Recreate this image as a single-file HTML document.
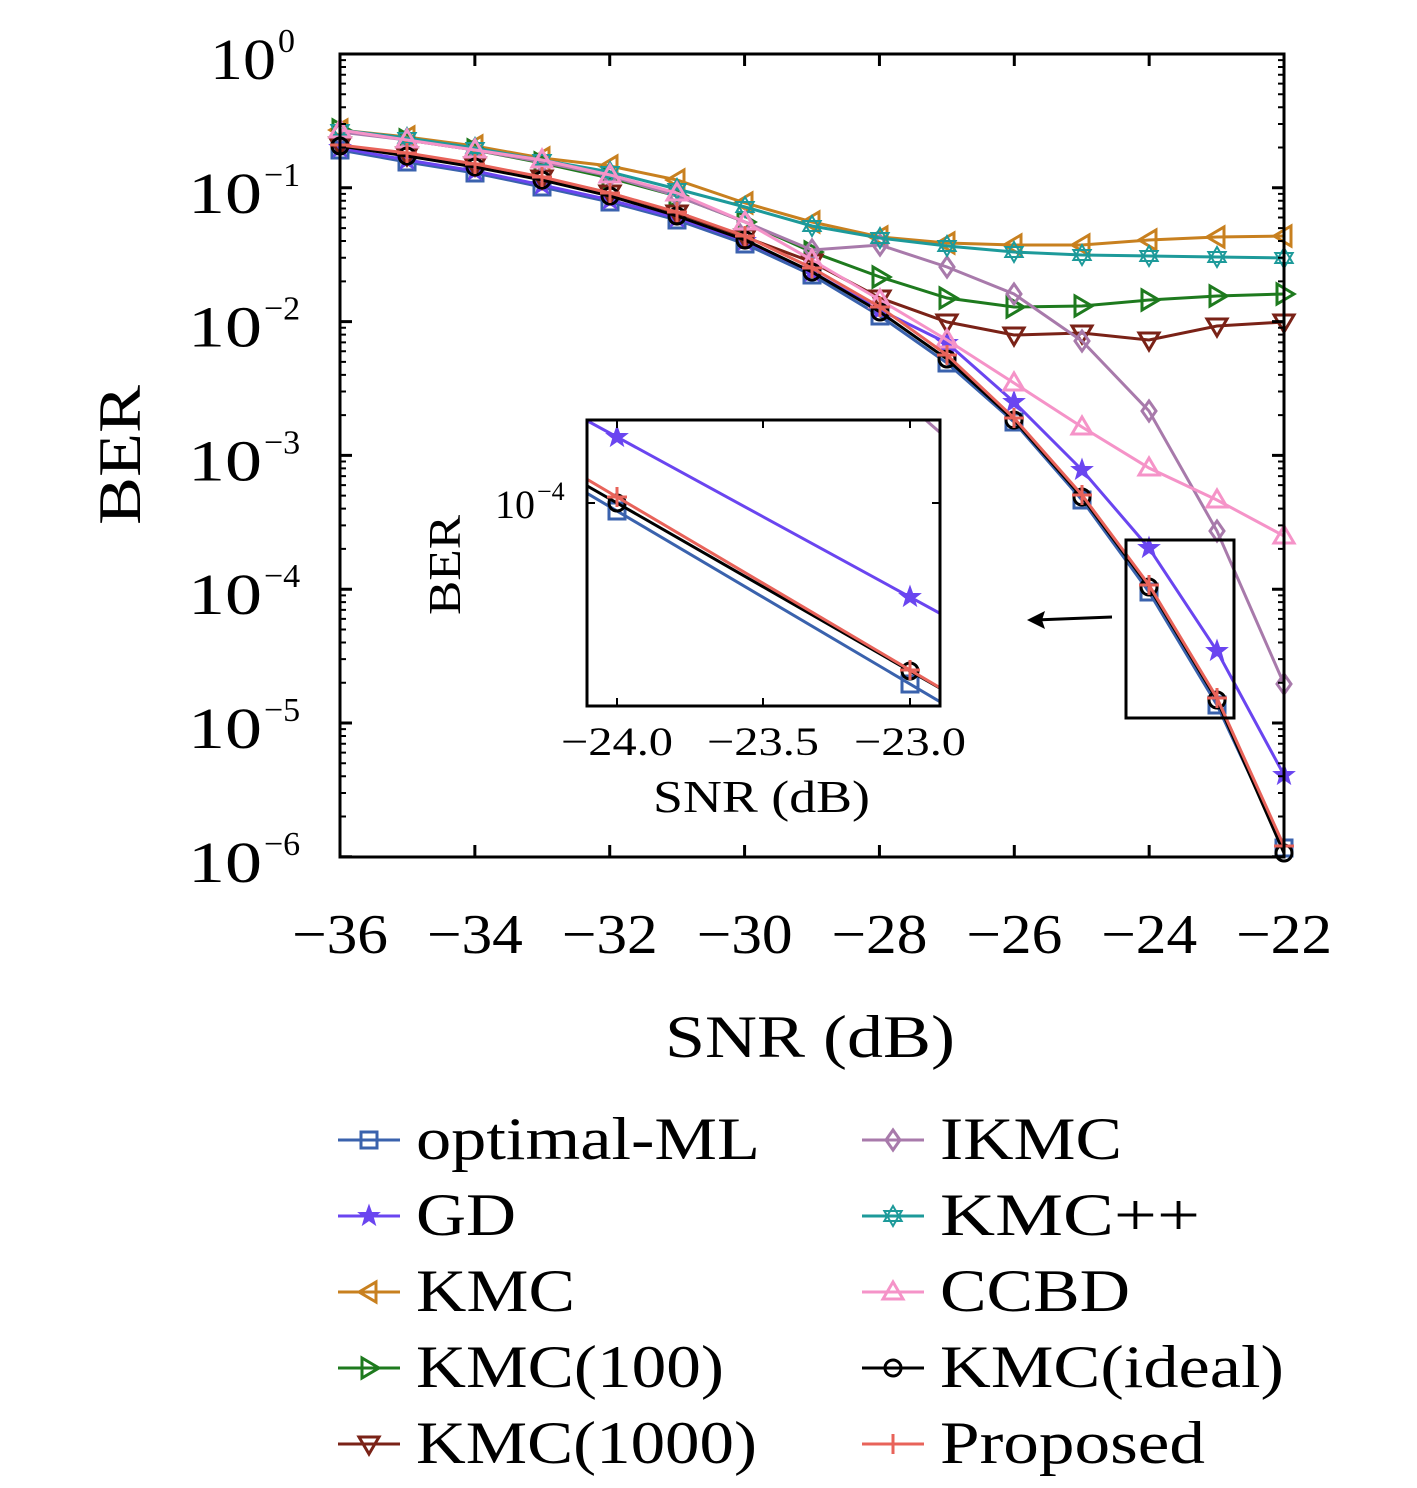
<!DOCTYPE html>
<html><head><meta charset="utf-8"><style>
html,body{margin:0;padding:0;background:#fff;}
svg text{font-family:"Liberation Serif",serif;fill:#000;}
</style></head><body>
<svg id="s" width="1417" height="1483" xmlns="http://www.w3.org/2000/svg"></svg>
<script>
const S=document.getElementById('s');let h='';
const X=[340,407,475,542,610,677,745,812,880,947,1014,1082,1149,1217,1284];
const series=[
 ['optimal-ML','#3a62ad','sq',[150,162,173,187,202,220,244,275,316,363,422,500,592,705,848],344],
 ['GD','#6a45f0','star',[148,160,171,185,200,218,241,272,310,343,402,470,548,651,775],100],
 ['KMC','#c8801f','tl',[130,137,146,158,166,180,203,222,237,243,245,245,240,237,236],159],
 ['KMC(100)','#1e7a1e','tr',[130,140,150,163,178,196,222,252,277,298,307,306,300,296,294],308],
 ['KMC(1000)','#7a2217','td',[145,155,165,178,193,213,237,262,298,322,335,333,340,326,322],341],
 ['IKMC','#a87aab','dia',[132,140,150,162,176,196,222,250,245,267,294,341,411,531,684],182],
 ['KMC++','#1d9a9a','hex',[130,138,148,160,172,189,207,226,238,246,252,255,256,257,258],260],
 ['CCBD','#f593c8','tu',[130,140,150,160,175,193,222,260,300,340,383,427,468,500,536],190],
 ['KMC(ideal)','#000','ci',[146,156,167,180,196,216,240,272,312,359,420,497,587,700,853],344],
 ['Proposed','#e8635a','pl',[145,153,164,177,193,212,236,268,307,355,418,495,585,698,846],265]];
function mk(t,x,y,c,r){r=r||10;const st=`fill="none" stroke="${c}" stroke-width="3"`;
 switch(t){
 case 'sq':return `<rect x="${x-r*0.8}" y="${y-r*0.8}" width="${r*1.6}" height="${r*1.6}" ${st}/>`;
 case 'ci':return `<circle cx="${x}" cy="${y}" r="${r*0.8}" ${st}/>`;
 case 'dia':return `<polygon points="${x},${y-r} ${x+r*0.7},${y} ${x},${y+r} ${x-r*0.7},${y}" ${st}/>`;
 case 'tu':return `<polygon points="${x},${y-r} ${x+r},${y+r*0.7} ${x-r},${y+r*0.7}" ${st}/>`;
 case 'td':return `<polygon points="${x},${y+r} ${x+r},${y-r*0.7} ${x-r},${y-r*0.7}" ${st}/>`;
 case 'tl':return `<polygon points="${x-r},${y} ${x+r*0.7},${y-r} ${x+r*0.7},${y+r}" ${st}/>`;
 case 'tr':return `<polygon points="${x+r},${y} ${x-r*0.7},${y-r} ${x-r*0.7},${y+r}" ${st}/>`;
 case 'pl':return `<path d="M${x-r} ${y}H${x+r}M${x} ${y-r}V${y+r}" ${st}/>`;
 case 'hex':{let p1='',p2='';for(let i=0;i<3;i++){let a=-Math.PI/2+i*2*Math.PI/3,b=Math.PI/2+i*2*Math.PI/3;p1+=`${x+r*Math.cos(a)},${y+r*Math.sin(a)} `;p2+=`${x+r*Math.cos(b)},${y+r*Math.sin(b)} `;}
  return `<polygon points="${p1}" fill="none" stroke="${c}" stroke-width="2"/><polygon points="${p2}" fill="none" stroke="${c}" stroke-width="2"/>`;}
 case 'star':{let p='';for(let i=0;i<10;i++){let a=-Math.PI/2+i*Math.PI/5,rr=i%2?r*0.45:r*1.1;p+=`${x+rr*Math.cos(a)},${y+rr*Math.sin(a)} `;}return `<polygon points="${p}" fill="${c}" stroke="${c}" stroke-width="1"/>`;}
 }}
for(const [n,c,m,Y] of series){h+=`<polyline points="${X.map((x,i)=>x+','+Y[i]).join(' ')}" fill="none" stroke="${c}" stroke-width="3"/>`;
 X.forEach((x,i)=>h+=mk(m,x,Y[i],c));}
h+=`<rect x="340" y="54" width="944" height="803" fill="none" stroke="#000" stroke-width="3"/>`;
for(let i=0;i<=6;i++){const y=54+i*133.8;h+=`<path d="M340 ${y}h12M1284 ${y}h-12" stroke="#000" stroke-width="3"/>`;
 const e=i?262:276;
 h+=`<text x="${e}" y="${y+25}" font-size="58" text-anchor="end" textLength="${i?74:66}" lengthAdjust="spacingAndGlyphs">10</text><text x="${e+2}" y="${y-2}" font-size="34">${i?'−'+i:'0'}</text>`;
 if(i<6)for(let k=2;k<10;k++){const yy=y+133.8-133.8*Math.log10(k);h+=`<path d="M340 ${yy}h6M1284 ${yy}h-6" stroke="#000" stroke-width="2"/>`;}}
for(let i=0;i<=7;i++){const x=340+i*134.86;h+=`<path d="M${x} 857v-12M${x} 54v12" stroke="#000" stroke-width="3"/><text x="${x-48}" y="953" font-size="56" textLength="96" lengthAdjust="spacingAndGlyphs">−${36-2*i}</text>`;}
h+=`<text x="665" y="1057" font-size="60" textLength="290" lengthAdjust="spacingAndGlyphs">SNR (dB)</text>`;
h+=`<text transform="translate(140,525) rotate(-90)" font-size="60" textLength="140" lengthAdjust="spacingAndGlyphs">BER</text>`;
h+=`<rect x="1126" y="540" width="108" height="178" fill="none" stroke="#000" stroke-width="3"/>`;
h+=`<path d="M1112 617L1035 620" stroke="#000" stroke-width="3"/><path d="M1027 620l18 -9l-3 9l3 9z" fill="#000"/>`;
h+=`<rect x="587" y="420" width="353" height="286" fill="#fff"/><defs><clipPath id="c"><rect x="587" y="420" width="353" height="286"/></clipPath></defs><g clip-path="url(#c)">`;
const L=[['#a87aab',null,880,380,960,450],['#6a45f0','star',617,437,910,597],['#3a62ad','sq',617,511,910,684],['#000','ci',617,503,910,671],['#e8635a','pl',617,497,910,670]];
for(const [c,m,x1,y1,x2,y2] of L){const s=(y2-y1)/(x2-x1);h+=`<line x1="550" y1="${y1+(550-x1)*s}" x2="980" y2="${y1+(980-x1)*s}" stroke="${c}" stroke-width="3"/>`;
 if(m){h+=mk(m,x1,y1,c);h+=mk(m,x2,y2,c);}}
h+=`</g><rect x="587" y="420" width="353" height="286" fill="none" stroke="#000" stroke-width="3"/>`;
for(const [x,t] of [[617,'−24.0'],[763,'−23.5'],[910,'−23.0']]){h+=`<path d="M${x} 706v-8M${x} 420v8" stroke="#000" stroke-width="2"/><text x="${x-56}" y="755" font-size="40" textLength="112" lengthAdjust="spacingAndGlyphs">${t}</text>`;}
h+=`<text x="535" y="518" font-size="40" text-anchor="end">10</text><text x="537" y="500" font-size="26">−4</text><path d="M587 503h8M940 503h-8" stroke="#000" stroke-width="2"/>`;
h+=`<text x="653" y="812" font-size="46" textLength="217" lengthAdjust="spacingAndGlyphs">SNR (dB)</text><text transform="translate(460,615) rotate(-90)" font-size="46" textLength="100" lengthAdjust="spacingAndGlyphs">BER</text>`;
series.forEach(([n,c,m,Y,w],i)=>{const col=i<5?0:1,row=i%5;const x=col?862:338,y=1140+row*76;
 h+=`<line x1="${x}" y1="${y}" x2="${x+62}" y2="${y}" stroke="${c}" stroke-width="3"/>`+mk(m,x+31,y,c);
 h+=`<text x="${x+78}" y="${y+19}" font-size="60" textLength="${w}" lengthAdjust="spacingAndGlyphs">${n}</text>`;});
S.innerHTML=h;
</script>
</body></html>
